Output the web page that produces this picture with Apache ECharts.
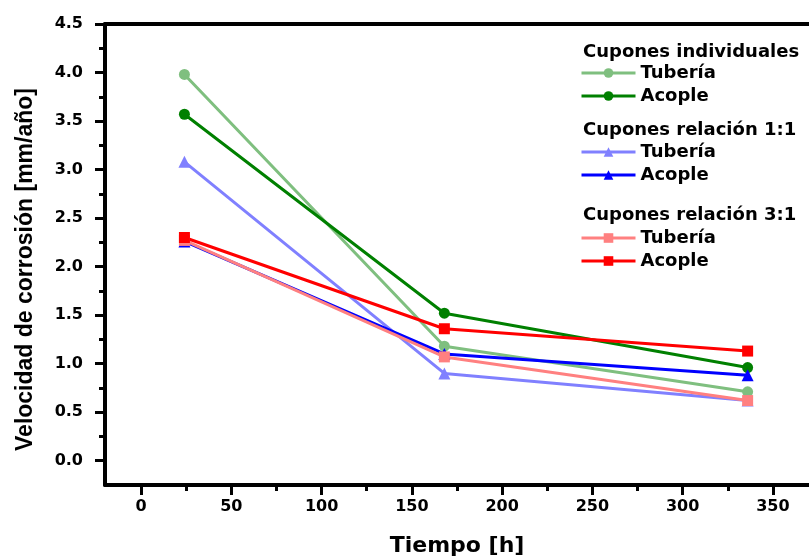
<!DOCTYPE html>
<html>
<head>
<meta charset="utf-8">
<script src="https://cdn.jsdelivr.net/npm/echarts@6/dist/echarts.min.js"></script>
<style>
  html, body { margin: 0; padding: 0; background: #fff; }
  #chart { width: 809px; height: 557px; }
</style>
</head>
<body>
<div id="chart"></div>
<script>
// tiempo de exposición [h]
const tiempo = [24, 168, 336];

// velocidad de corrosión [mm/año]
const indTuberia = [3.98, 1.18, 0.71];
const indAcople = [3.57, 1.52, 0.96];
const r11Tuberia = [3.08, 0.90, 0.62];
const r11Acople = [2.26, 1.10, 0.88];
const r31Tuberia = [2.27, 1.07, 0.62];
const r31Acople = [2.30, 1.36, 1.13];

const groupTitles = ["Cupones individuales", "Cupones relación 1:1", "Cupones relación 3:1"];

// ticks
const xMajor = [0, 50, 100, 150, 200, 250, 300, 350];
const xMinor = [25, 75, 125, 175, 225, 275, 325];
const yMajor = [0, 0.5, 1, 1.5, 2, 2.5, 3, 3.5, 4, 4.5];
const yMinor = [0.25, 0.75, 1.25, 1.75, 2.25, 2.75, 3.25, 3.75, 4.25];

const font = "DejaVu Sans";

function pts(vals) {
  return tiempo.map((t, i) => [t, vals[i]]);
}

function mkSeries(name, vals, color, symbol) {
  return {
    name: name,
    type: "line",
    data: pts(vals),
    symbol: symbol,
    symbolSize: symbol === "triangle" ? 12 : 11,
    lineStyle: { color: color, width: 3 },
    itemStyle: { color: color },
    emphasis: { disabled: true },
  };
}

const series = [
  mkSeries("a|Tubería", indTuberia, "#7fbf7f", "circle"),
  mkSeries("a|Acople", indAcople, "#008000", "circle"),
  mkSeries("b|Tubería", r11Tuberia, "#8080ff", "triangle"),
  mkSeries("b|Acople", r11Acople, "#0000ff", "triangle"),
  mkSeries("c|Tubería", r31Tuberia, "#ff8080", "rect"),
  mkSeries("c|Acople", r31Acople, "#ff0000", "rect"),
];

function mkLegend(prefix, top) {
  return {
    orient: "vertical",
    left: 580,
    top: top,
    padding: 0,
    data: [prefix + "|Tubería", prefix + "|Acople"],
    itemWidth: 54,
    itemHeight: 12,
    itemGap: 3,
    selectedMode: false,
    lineStyle: { width: 3 },
    formatter: (n) => n.split("|")[1],
    textStyle: { fontFamily: font, fontWeight: "bold", fontSize: 18, lineHeight: 20, color: "#000" },
  };
}

function header(txt, top) {
  return { type: "text", left: 583, top: top, style: { text: txt, font: "bold 18px '" + font + "'", fill: "#000" } };
}

const chart = echarts.init(document.getElementById("chart"));

chart.setOption({
  backgroundColor: "#fff",
  animation: false,
  grid: { left: 105, top: 24, right: 0, bottom: 72, outerBoundsMode: "none" },
  xAxis: [{
    type: "value",
    min: -20,
    max: 370,
    name: "Tiempo [h]",
    nameLocation: "middle",
    nameGap: 50,
    nameTextStyle: { fontFamily: font, fontWeight: "bold", fontSize: 22, color: "#000" },
    axisLine: { onZero: false, lineStyle: { color: "#000", width: 4 } },
    axisTick: { show: true, length: 10, lineStyle: { width: 3, color: "#000" }, customValues: xMajor },
    splitLine: { show: false },
    axisLabel: {
      margin: 14, fontFamily: font, fontWeight: "bold", fontSize: 16, color: "#000",
      customValues: xMajor,
    },
  }, {
    type: "value",
    position: "bottom",
    min: -20,
    max: 370,
    axisLine: { show: false, onZero: false },
    axisTick: { show: true, length: 6, lineStyle: { width: 3, color: "#000" }, customValues: xMinor },
    axisLabel: { show: false },
    splitLine: { show: false },
  }, {
    type: "value",
    position: "top",
    min: -20,
    max: 370,
    axisLine: { onZero: false, lineStyle: { color: "#000", width: 4 } },
    axisTick: { show: false },
    axisLabel: { show: false },
    splitLine: { show: false },
  }],
  yAxis: [{
    type: "value",
    min: -0.25,
    max: 4.5,
    name: "Velocidad de corrosión [mm/año]",
    nameLocation: "middle",
    nameGap: 68,
    nameTextStyle: { fontFamily: "Liberation Sans", fontWeight: "bold", fontSize: 23, color: "#000", padding: [0, 30, 0, 0] },
    axisLine: { onZero: false, lineStyle: { color: "#000", width: 4 } },
    axisTick: { show: true, length: 10, lineStyle: { width: 3, color: "#000" }, customValues: yMajor },
    splitLine: { show: false },
    axisLabel: {
      margin: 22, fontFamily: font, fontWeight: "bold", fontSize: 16, color: "#000",
      formatter: (v) => v.toFixed(1),
      customValues: yMajor,
    },
  }, {
    type: "value",
    position: "left",
    min: -0.25,
    max: 4.5,
    axisLine: { show: false, onZero: false },
    axisTick: { show: true, length: 6, lineStyle: { width: 3, color: "#000" }, customValues: yMinor },
    axisLabel: { show: false },
    splitLine: { show: false },
  }],
  legend: [
    mkLegend("a", 63),
    mkLegend("b", 142),
    mkLegend("c", 228),
  ],
  graphic: [
    header(groupTitles[0], 43),
    header(groupTitles[1], 121),
    header(groupTitles[2], 206),
  ],
  series: series,
});
</script>
</body>
</html>
